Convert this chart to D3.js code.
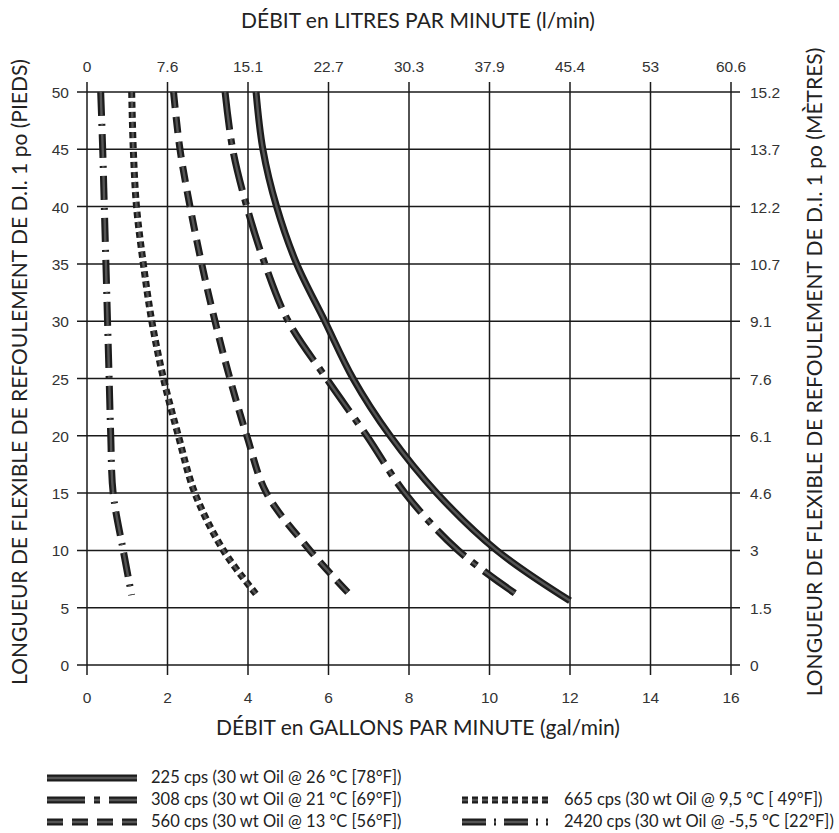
<!DOCTYPE html>
<html>
<head>
<meta charset="utf-8">
<script src="https://cdn.jsdelivr.net/npm/d3@7/dist/d3.min.js"></script>
<style>
  body { margin: 0; background: #fff; }
  .tick-label { font-family: "Liberation Sans", Arial, sans-serif; font-size: 15.5px; fill: #333; }
  .title { font-family: Lato, "Open Sans", sans-serif; font-size: 21px; fill: #222; }
  .legend { font-family: Lato, "Open Sans", sans-serif; font-size: 16.5px; fill: #222; }
</style>
</head>
<body>
<svg id="chart"></svg>
<script>
// gallons per minute ticks and matching litres per minute labels
var gpmTicks = [0, 2, 4, 6, 8, 10, 12, 14, 16];
var lpmLabels = ['0', '7.6', '15.1', '22.7', '30.3', '37.9', '45.4', '53', '60.6'];
// feet ticks and matching metre labels
var feetTicks = [0, 5, 10, 15, 20, 25, 30, 35, 40, 45, 50];
var metreLabels = ['0', '1.5', '3', '4.6', '6.1', '7.6', '9.1', '10.7', '12.2', '13.7', '15.2'];

// curves: hose length (ft) and flow (gal/min)
var feet = [50, 45, 40, 35, 30, 25, 20, 15, 10];
var gpm225 = [4.2, 4.37, 4.71, 5.21, 5.91, 6.61, 7.53, 8.69, 10.18];
var gpm308 = [3.43, 3.62, 3.97, 4.42, 5.0, 5.95, 6.95, 7.9, 9.22];
var gpm560 = [2.15, 2.31, 2.56, 2.85, 3.18, 3.55, 3.97, 4.46, 5.54];
var gpm665 = [1.11, 1.15, 1.23, 1.4, 1.61, 1.9, 2.27, 2.68, 3.39];
var gpm2420 = [0.34, 0.39, 0.43, 0.47, 0.51, 0.55, 0.59, 0.65, 0.9];
// where each curve stops at the bottom: [gal/min, ft]
var end225 = [12.0, 5.6];
var end308 = [10.8, 5.85];
var end560 = [6.49, 6.3];
var end665 = [4.22, 6.1];
var end2420 = [1.11, 6.1];

var legendNames = [
  '225 cps (30 wt Oil @ 26 °C [78°F])',
  '308 cps (30 wt Oil @ 21 °C [69°F])',
  '560 cps (30 wt Oil @ 13 °C [56°F])',
  '665 cps (30 wt Oil @ 9,5 °C [ 49°F])',
  '2420 cps (30 wt Oil @ -5,5 °C [22°F])'
];

var width = 839, height = 833;
var svg = d3.select('#chart').attr('width', width).attr('height', height);

var x = d3.scaleLinear().domain([0, 16]).range([87, 731]);
var y = d3.scaleLinear().domain([0, 50]).range([665, 92]);

// grid
var grid = svg.append('g').attr('stroke', '#1a1a1a').attr('stroke-width', 1.5);
grid.selectAll('.h').data(feetTicks).enter().append('line')
  .attr('x1', x(0) - 10).attr('x2', x(16) + 9)
  .attr('y1', function(d) { return y(d); }).attr('y2', function(d) { return y(d); });
grid.selectAll('.v').data(gpmTicks).enter().append('line')
  .attr('y1', y(50) - 10).attr('y2', y(0) + 10)
  .attr('x1', function(d) { return x(d); }).attr('x2', function(d) { return x(d); });

// tick labels
svg.selectAll('.bl').data(gpmTicks).enter().append('text')
  .attr('class', 'tick-label').attr('text-anchor', 'middle')
  .attr('x', function(d) { return x(d); }).attr('y', 703)
  .text(function(d) { return d; });
svg.selectAll('.tl').data(gpmTicks).enter().append('text')
  .attr('class', 'tick-label').attr('text-anchor', 'middle')
  .attr('x', function(d) { return x(d); }).attr('y', 72)
  .text(function(d, i) { return lpmLabels[i]; });
svg.selectAll('.ll').data(feetTicks).enter().append('text')
  .attr('class', 'tick-label').attr('text-anchor', 'end')
  .attr('x', 69).attr('y', function(d) { return y(d) + 6; })
  .text(function(d) { return d; });
svg.selectAll('.rl').data(feetTicks).enter().append('text')
  .attr('class', 'tick-label').attr('text-anchor', 'start')
  .attr('x', 750).attr('y', function(d) { return y(d) + 6; })
  .text(function(d, i) { return metreLabels[i]; });

// titles
svg.append('text').attr('class', 'title').attr('text-anchor', 'middle')
  .attr('x', 418).attr('y', 28).text('DÉBIT en LITRES PAR MINUTE (l/min)');
svg.append('text').attr('class', 'title').attr('text-anchor', 'middle')
  .attr('x', 418).attr('y', 735).text('DÉBIT en GALLONS PAR MINUTE (gal/min)');
svg.append('text').attr('class', 'title').attr('text-anchor', 'middle')
  .attr('transform', 'translate(27,372) rotate(-90)')
  .text('LONGUEUR DE FLEXIBLE DE REFOULEMENT DE D.I. 1 po (PIEDS)');
svg.append('text').attr('class', 'title').attr('text-anchor', 'middle')
  .attr('transform', 'translate(822,372) rotate(-90)')
  .text('LONGUEUR DE FLEXIBLE DE REFOULEMENT DE D.I. 1 po (MÈTRES)');

// curves
var series = [
  {name: legendNames[0], gpm: gpm225, end: end225, dash: null},
  {name: legendNames[1], gpm: gpm308, end: end308, dash: '38,9,6,9'},
  {name: legendNames[2], gpm: gpm560, end: end560, dash: '16,9'},
  {name: legendNames[3], gpm: gpm665, end: end665, dash: '6,4'},
  {name: legendNames[4], gpm: gpm2420, end: end2420, dash: '24,8,2,8'}
];

var line = d3.line()
  .curve(d3.curveCatmullRom)
  .x(function(d) { return x(d[0]); })
  .y(function(d) { return y(d[1]); });

var outer = ['#1c1c1c', 7], inner = ['#555', 2.4];

series.forEach(function(s) {
  var pts = s.gpm.map(function(g, i) { return [g, feet[i]]; });
  pts.push(s.end);
  var d = line(pts);
  [outer, inner].forEach(function(st) {
    svg.append('path').attr('d', d)
      .attr('fill', 'none').attr('stroke', st[0]).attr('stroke-width', st[1])
      .attr('stroke-dasharray', s.dash);
  });
});

// legend
var legendPos = [
  {x: 47, y: 778}, {x: 47, y: 800}, {x: 47, y: 822},
  {x: 462, y: 800}, {x: 462, y: 822}
];
series.forEach(function(s, i) {
  var p = legendPos[i];
  var len = i < 3 ? 90 : 86;
  [outer, inner].forEach(function(st) {
    svg.append('line')
      .attr('x1', p.x).attr('x2', p.x + len)
      .attr('y1', p.y).attr('y2', p.y)
      .attr('stroke', st[0]).attr('stroke-width', st[1])
      .attr('stroke-dasharray', s.dash);
  });
  svg.append('text').attr('class', 'legend')
    .attr('x', i < 3 ? 151 : 564).attr('y', p.y + 5)
    .text(s.name);
});
</script>
</body>
</html>
